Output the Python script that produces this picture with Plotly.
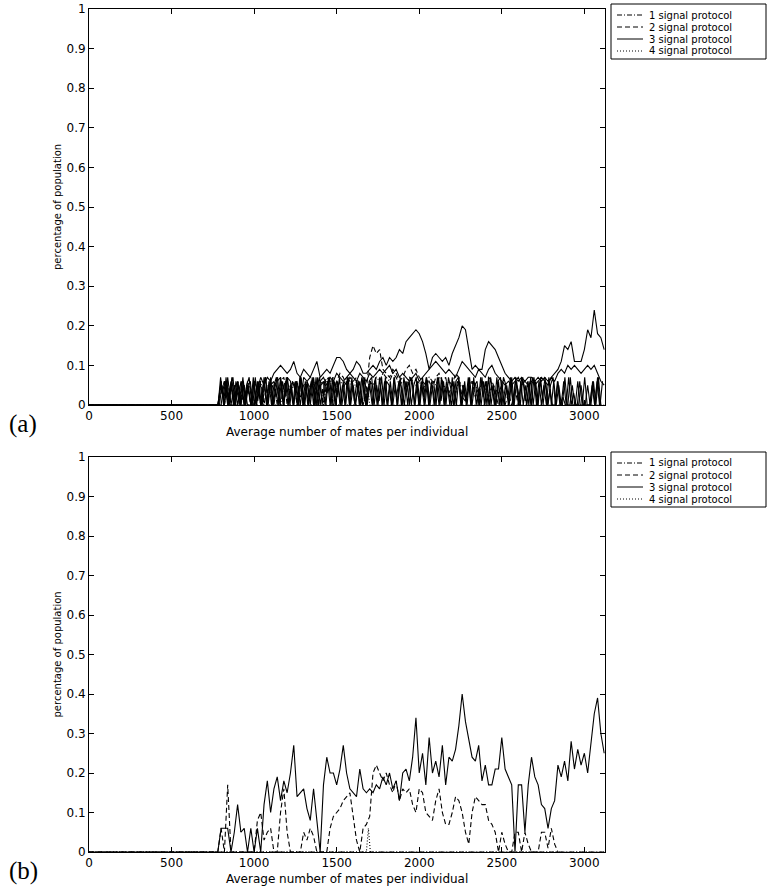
import plotly.graph_objects as go

# ---------------- data ----------------
X_TICKS = [0, 500, 1000, 1500, 2000, 2500, 3000]
X_TICK_TEXT = ["0", "500", "1000", "1500", "2000", "2500", "3000"]
Y_TICKS = [0, 0.1, 0.2, 0.3, 0.4, 0.5, 0.6, 0.7, 0.8, 0.9, 1.0]
Y_TICK_TEXT = ["0", "0.1", "0.2", "0.3", "0.4", "0.5", "0.6", "0.7", "0.8", "0.9", "1"]
LEGEND_NAMES = ["1 signal protocol", "2 signal protocol", "3 signal protocol", "4 signal protocol"]
X_TITLE = "Average number of mates per individual"
Y_TITLE = "percentage of population"
PANEL_LABELS = ["(a)", "(b)"]

# every series starts at zero population at x = 0
START_X = 0
START_Y = 0.0
# sampling grid of the recorded series (x of first sample, spacing)
GRID_START = 780
GRID_STEP = 20
OSC1_START = 785
OSC2_START = 790
OSC3_START = 782
OSC_STEP = 15

# ---- panel (a) ----
A1 = [0, .03, .06, .02, .05, 0, .06, .03, 0, .06,
      .04, 0, .03, .06, 0, .05, .03, .06, .04, 0,
      .05, .06, .03, .05, .06, .02, .05, .06, .04, .06,
      .03, .05, 0, .06, .05, .07, .04, .06, .05, .07,
      .06, .04, .06, .02, 0, .03, .06, .05, .07, .06,
      .08, .07, .06, .08, .07, .05, .06, .05, .07, .06,
      .05, .06, .04, .05, .07, .06, .05, .07, .06, .04,
      .06, .05, .03, .06, .05, .02, .04, .06, .05, .03,
      .06, .04, .02, .05, .03, 0, 0]
A2 = [0, .05, 0, .06, 0, 0, .04, 0, 0, .05,
      0, 0, .05, 0, .04, 0, .05, .06, 0, .06,
      .07, 0, .05, .06, 0, .05, 0, .06, .07, .05,
      0, .06, .05, .07, .06, 0, .06, .08, .07, .05,
      .07, .06, .07, .05, 0, .04, .12, .15, .13, .14,
      .09, .08, .07, .09, .08, .06, .07, .09, .10, .08,
      .09, .07, .06, .05, .06, .04, .07, .08, .06, .07,
      .03, .05, .08, .07, .02, .01, .05, .06, .02, .04,
      .06, .05, .07, .06, .04, .03, .05, 0, .03, 0,
      .04, 0, 0]
A3 = [0, .06, 0, .07, 0, .05, 0, .06, 0, .05,
      0, .06, .04, .07, .05, .07, .06, .08, .09, .10,
      .09, .08, .09, .11, .08, .07, .09, .08, .07, .09,
      .11, .07, .08, .09, .08, .10, .12, .12, .11, .09,
      .08, .09, .11, .10, .08, .08, .09, .10, .09, .11,
      .12, .10, .12, .11, .12, .14, .13, .16, .17, .18,
      .19, .18, .16, .13, .09, .12, .13, .12, .11, .12,
      .10, .13, .15, .17, .20, .19, .14, .09, .10, .09,
      .09, .14, .16, .15, .14, .12, .10, .08, .07, .06,
      .07, .06, .07, .06, .07, .07, .06, .07, .06, .07,
      .06, .07, .08, .09, .11, .15, .14, .16, .11, .11,
      .11, .14, .19, .17, .24, .18, .17, .14]
A4_X = [0, 1680, 1690, 1700, 3120]
A4_Y = [0, 0, .04, 0, 0]
A_MID = [0, 0, .06, 0, .06, 0, .06, 0, .05, 0,
         0, 0, .06, 0, .06, 0, .07, 0, .06, .07,
         0, .07, .06, 0, .06, 0, .07, .06, 0, .07,
         0, .06, .07, .05, .07, .06, .08, .07, .06, .07,
         .08, .07, .06, .08, .07, .06, .08, .07, .08, .09,
         .08, .09, .10, .08, .09, .07, .08, .07, .06, .07,
         .08, .06, .07, .08, .09, .10, .11, .10, .09, .08,
         .09, .08, .07, .09, .11, .10, .09, .08, .07, .09,
         .08, .07, .09, .10, .08, .07, .06, .05, .06, .05,
         .06, .07, .05, .06, .05, .06, .05, .06, .07, .06,
         .05, .07, .06, .08, .09, .08, .10, .09, .10, .09,
         .08, .09, .10, .09, .10, .08, .06, .05]
A_OSC1 = [0, .06, 0, .07, 0, .05, 0, .06, .03, 0, .06, 0, .05, 0, .07, 0,
          .06, 0, .05, .07, 0, .06, 0, .04, 0, .07, 0, .06, 0, .05, 0, .06,
          0, .07, 0, .06, 0, .05, .06, 0, .07, 0, .04, 0, .06, 0, .07, 0,
          .06, 0, .05, 0, .07, 0, .06, 0, .03, .06, 0, .07, 0, .05, 0, .06,
          0, .07, 0, .06, 0, .05, 0, .07, 0, .06, .04, 0, .06, 0, .07, 0,
          .06, 0, .05, 0, .07, 0, .06, 0, .05, 0, .07, 0, .06, .03, 0, .06,
          0, .07, 0, .05, 0, .06, 0, .07, 0, .04, 0, .06, 0, .07, 0, .05,
          0, .06, 0, .07, .05, 0, .06, 0, .07, 0, .06, 0, .05, 0, .07, 0,
          .06, 0, .07, 0, .06, 0, .05, .07, 0, .06, 0, .02, 0, 0, .07, 0,
          0, .06, 0, 0, 0, .05, 0, .06, 0, .07, 0, .06]
A_OSC2 = [0, .05, 0, .06, 0, .07, 0, .04, 0, .06, 0, .05, .07, 0, .06, 0,
          .05, 0, .07, 0, .06, 0, .05, .07, 0, .06, 0, .07, 0, .05, 0, .06,
          0, .07, 0, .05, 0, .06, 0, .07, 0, .05, .06, 0, .07, 0, .06, 0,
          .05, 0, .06, 0, .07, 0, .05, 0, .06, 0, .07, 0, .04, .06, 0, .07,
          0, .05, 0, .07, 0, .06, 0, .05, 0, .07, 0, .06, 0, .07, .05, 0,
          .06, 0, .07, 0, .06, 0, .05, 0, .07, 0, .06, 0, .05, 0, .07, 0,
          .06, .05, 0, .06, 0, .07, 0, .05, .06, 0, .07, 0, .06, 0, .05, 0,
          .07, 0, .06, 0, .05, 0, .07, 0, .06, 0, .07, .05, 0, .06, 0, .07,
          0, .06, 0, .05, 0, .07, 0, .06, 0, .05, 0, .06, 0, .07, 0, .03,
          0, 0, .05, 0, 0, 0, 0, .06, 0, .07, 0]
A_OSC3 = [0, .07, .02, .06, 0, .05, .07, 0, .06, .01, .07, 0, .05, .06, 0, .07,
          .01, .06, 0, .07, .03, .06, 0, .05, .07, 0, .06, .02, .07, 0, .06, .04,
          0, .07, .05, 0, .06, .01, .07, 0, .05, .07, 0, .06, .03, .07, 0, .06,
          .02, .07, 0, .05, .06, 0, .07, .01, .06, 0, .07, .04, 0, .06, .07, 0,
          .05, .01, .07, 0, .06, .05, 0, .07, .02, .06, 0, .07, .03, .06, 0, .05,
          .07, 0, .06, .02, .07, 0, .05, .06, 0, .07, .01, .06, 0, .07, .04, 0,
          .06, .07, 0, .05, .01, .07, 0, .06, .05, 0, .07, .02, .06, 0, .07, .03,
          0, .06, .07, 0, .05, .02, .07, 0, .06, .04, 0, .07, .01, .06, 0, .07,
          .05, 0, .06, .02, .07, 0, .04, 0, 0, .06, 0, 0, .07, 0, 0, .05,
          0, 0, .06, 0, .07, 0, 0, .05, 0, .06, 0]

# ---- panel (b) ----
B1_X = [0, 3120]
B1_Y = [0, 0]
B2 = [0, .06, 0, .17, 0, 0, 0, 0, 0, 0,
      0, 0, .08, .10, .03, .05, .06, 0, 0, .10,
      .16, .05, 0, 0, 0, 0, .05, .03, .06, .04,
      0, 0, 0, 0, .06, .09, .10, .11, .13, .14,
      .15, .09, .03, 0, .06, .07, .09, .20, .22, .20,
      .18, .20, .17, .15, .18, .13, .16, .15, .16, .12,
      .10, .16, .15, .10, .09, .08, .13, .16, .10, .07,
      .07, .10, .14, .13, .10, .05, .02, .10, .14, .13,
      .12, .12, .08, .07, .05, 0, .05, .02, 0, 0,
      .05, .05, 0, .05, .02, 0, 0, 0, .05, .05,
      .01, .06, .02, 0]
B3 = [0, .06, .06, .06, 0, .05, .12, .05, .06, 0,
      .06, 0, .06, 0, .12, .18, .10, .16, .19, .13,
      .18, .15, .20, .27, .14, .15, .16, .11, .08, .16,
      .08, 0, .17, .24, .20, .20, .17, .21, .27, .20,
      .16, .15, .14, .21, .16, .15, .16, .15, .17, .16,
      .19, .17, .20, .16, .18, .13, .20, .21, .18, .24,
      .34, .20, .25, .17, .29, .20, .23, .19, .27, .17,
      .24, .23, .26, .32, .40, .33, .28, .24, .23, .27,
      .18, .22, .17, .17, .21, .21, .29, .21, .19, .17,
      0, .17, .17, .05, .17, .24, .19, .17, .12, .11,
      .06, .11, .13, .22, .19, .23, .18, .28, .21, .26,
      .22, .25, .20, .28, .35, .39, .30, .25]
B4_X = [0, 1680, 1692, 1704, 3120]
B4_Y = [0, 0, .06, 0, 0]

# ---------------- layout geometry (pixels) ----------------
FIG_W, FIG_H = 767, 895
AX_L, AX_R = 89, 605
PANELS = [(9, 405), (457, 852)]   # (top, bottom) of each axes box
X_MAX = 3125
LINE_W = 1.1

DASH = {"1": "5px,2px,1px,2px", "2": "5px,3px", "3": "solid", "4": "1px,2px"}
FONT = "DejaVu Sans"


def fx(px):
    return px / FIG_W


def fy(py):
    return 1 - py / FIG_H


def grid(start, step, n):
    return [start + step * i for i in range(n)]


def series(start, step, vals):
    return [START_X] + grid(start, step, len(vals)), [START_Y] + list(vals)


fig = go.Figure()


def add_line(xs, ys, dash, name, axis):
    fig.add_trace(go.Scatter(
        x=xs, y=ys, mode="lines", name=name, showlegend=False,
        line=dict(color="black", width=LINE_W, dash=dash),
        xaxis="x" if axis == 1 else "x2", yaxis="y" if axis == 1 else "y2",
        hoverinfo="skip"))


# panel (a)
add_line(*series(OSC1_START, OSC_STEP, A_OSC1), DASH["3"], "run", 1)
add_line(*series(OSC2_START, OSC_STEP, A_OSC2), DASH["3"], "run", 1)
add_line(*series(OSC3_START, OSC_STEP, A_OSC3), DASH["3"], "run", 1)
add_line(*series(GRID_START, GRID_STEP, A_MID), DASH["3"], "run", 1)
add_line(*series(GRID_START, GRID_STEP, A1), DASH["1"], LEGEND_NAMES[0], 1)
add_line(*series(GRID_START, GRID_STEP, A2), DASH["2"], LEGEND_NAMES[1], 1)
add_line(*series(GRID_START, GRID_STEP, A3), DASH["3"], LEGEND_NAMES[2], 1)
add_line(A4_X, A4_Y, DASH["4"], LEGEND_NAMES[3], 1)

# panel (b)
add_line(B1_X, B1_Y, DASH["1"], LEGEND_NAMES[0], 2)
add_line(*series(GRID_START, GRID_STEP, B2), DASH["2"], LEGEND_NAMES[1], 2)
add_line(*series(GRID_START, GRID_STEP, B3), DASH["3"], LEGEND_NAMES[2], 2)
add_line(B4_X, B4_Y, DASH["4"], LEGEND_NAMES[3], 2)

axis_common = dict(showline=True, linecolor="black", linewidth=1, mirror="ticks",
                   ticks="inside", ticklen=5, tickwidth=1, tickcolor="black",
                   showgrid=False, zeroline=False, automargin=False,
                   tickfont=dict(family=FONT, size=12, color="black"))

xdom = [fx(AX_L), fx(AX_R)]
fig.update_layout(
    width=FIG_W, height=FIG_H, margin=dict(l=0, r=0, t=0, b=0),
    template="none", paper_bgcolor="white", plot_bgcolor="white",
    font=dict(family=FONT, color="black"),
    xaxis=dict(domain=xdom, range=[0, X_MAX], anchor="y",
               tickvals=X_TICKS, ticktext=X_TICK_TEXT, **axis_common),
    yaxis=dict(domain=[fy(PANELS[0][1]), fy(PANELS[0][0])], range=[0, 1], anchor="x",
               tickvals=Y_TICKS, ticktext=Y_TICK_TEXT, **axis_common),
    xaxis2=dict(domain=xdom, range=[0, X_MAX], anchor="y2",
                tickvals=X_TICKS, ticktext=X_TICK_TEXT, **axis_common),
    yaxis2=dict(domain=[fy(PANELS[1][1]), fy(PANELS[1][0])], range=[0, 1], anchor="x2",
                tickvals=Y_TICKS, ticktext=Y_TICK_TEXT, **axis_common),
)

shapes = []
annotations = []
for k, (top, bot) in enumerate(PANELS):
    dy = top - PANELS[0][0]
    # axis titles
    annotations.append(dict(text=X_TITLE, x=fx((AX_L + AX_R) / 2), y=fy(bot + 27),
                            xref="paper", yref="paper", showarrow=False,
                            xanchor="center", yanchor="middle",
                            font=dict(family=FONT, size=12, color="black")))
    annotations.append(dict(text=Y_TITLE, x=fx(57), y=fy((top + bot) / 2),
                            xref="paper", yref="paper", showarrow=False, textangle=-90,
                            xanchor="center", yanchor="middle",
                            font=dict(family=FONT, size=10, color="black")))
    # panel label
    annotations.append(dict(text=PANEL_LABELS[k], x=fx(23), y=fy(bot + 19),
                            xref="paper", yref="paper", showarrow=False,
                            xanchor="center", yanchor="middle",
                            font=dict(family="Liberation Serif", size=25, color="black")))
    # legend box
    shapes.append(dict(type="rect", xref="paper", yref="paper",
                       x0=fx(611), x1=fx(766), y0=fy(4 + dy), y1=fy(59 + dy),
                       line=dict(color="black", width=1), fillcolor="white", layer="above"))
    for i, name in enumerate(LEGEND_NAMES):
        ry = 15 + 12 * i + dy
        shapes.append(dict(type="line", xref="paper", yref="paper",
                           x0=fx(617), x1=fx(643), y0=fy(ry), y1=fy(ry),
                           line=dict(color="black", width=1, dash=DASH[str(i + 1)]),
                           layer="above"))
        annotations.append(dict(text=name, x=fx(648), y=fy(ry), xref="paper", yref="paper",
                                showarrow=False, xanchor="left", yanchor="middle",
                                borderpad=0,
                                font=dict(family=FONT, size=10, color="black")))

fig.update_layout(shapes=shapes, annotations=annotations)
fig.write_html("out.html")
